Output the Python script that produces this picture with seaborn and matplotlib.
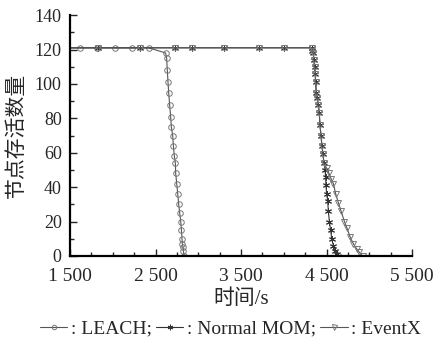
import numpy as np
import pandas as pd
import matplotlib
matplotlib.use("Agg")
import matplotlib.pyplot as plt
import seaborn as sns
from matplotlib.ticker import MultipleLocator, FixedLocator

# data (time in s, alive nodes)
leach_t = [1400, 1620, 1820, 2020, 2220, 2420, 2617, 2629, 2637, 2645, 2653, 2664,
           2676, 2684, 2700, 2708, 2719, 2731, 2735, 2747, 2759, 2770, 2782, 2794,
           2802, 2809, 2813, 2821, 2825, 2833]
leach_n = [121, 121, 121, 121, 121, 121, 118, 115, 108, 101, 95, 88,
           81, 75, 70, 64, 58, 54, 48, 42, 36, 30, 25, 20,
           15, 10, 7, 5, 3, 0]

mom_t = [1400, 1829, 2312, 2723, 2924, 3300, 3712, 4006, 4324, 4332, 4343, 4351,
         4359, 4367, 4371, 4379, 4390, 4402, 4414, 4422, 4434, 4445, 4457, 4469,
         4481, 4488, 4492, 4500, 4512, 4520, 4532, 4547, 4559, 4579, 4598, 4618, 4637]
mom_n = [121, 121, 121, 121, 121, 121, 121, 121, 121, 119, 118, 114,
         110, 106, 101, 95, 92, 88, 83, 76, 70, 64, 59, 54,
         50, 46, 41, 36, 32, 26, 20, 15, 10, 6, 3, 1, 0]

evx_t = [1400, 1829, 2312, 2723, 2924, 3300, 3712, 4006, 4324, 4332, 4343, 4351,
         4359, 4367, 4371, 4379, 4390, 4402, 4414, 4422, 4434, 4445, 4457, 4469,
         4500, 4528, 4551, 4579, 4606, 4637, 4669, 4708, 4739, 4775, 4814, 4853,
         4884, 4920]
evx_n = [121, 121, 121, 121, 121, 121, 121, 121, 121, 119, 118, 114,
         110, 106, 101, 95, 92, 88, 83, 76, 70, 64, 59, 54,
         51, 48, 45, 42, 36, 31, 26, 20, 16, 11, 7, 4,
         2, 0]

x_ticks = [1500, 2500, 3500, 4500, 5500]
x_labels = ["1 500", "2 500", "3 500", "4 500", "5 500"]

sns.set_style("ticks")
plt.rcParams["font.family"] = ["Liberation Serif", "Noto Sans CJK SC"]
plt.rcParams["xtick.direction"] = "in"
plt.rcParams["ytick.direction"] = "in"

fig = plt.figure(figsize=(4.38, 3.44), dpi=100)
ax = fig.add_axes([0.160, 0.256, 0.781, 0.700])

df_leach = pd.DataFrame({"t": leach_t, "n": leach_n})
df_mom = pd.DataFrame({"t": mom_t, "n": mom_n})
df_evx = pd.DataFrame({"t": evx_t, "n": evx_n})

line_c = "#555555"
sns.lineplot(data=df_leach, x="t", y="n", ax=ax, color=line_c, lw=0.8, marker="o",
             markersize=4, markerfacecolor="none", markeredgecolor="#777777",
             markeredgewidth=0.7, sort=False, label=": LEACH;")
sns.lineplot(data=df_mom, x="t", y="n", ax=ax, color="#333333", lw=0.8, marker=(6, 2, 0),
             markersize=5, markeredgecolor="#333333", markeredgewidth=0.7,
             sort=False, label=": Normal MOM;")
sns.lineplot(data=df_evx, x="t", y="n", ax=ax, color=line_c, lw=0.8, marker="v",
             markersize=4.5, markerfacecolor="none", markeredgecolor="#777777",
             markeredgewidth=0.7, sort=False, label=": EventX")

ax.set_xlim(1500, 5500)
ax.set_ylim(0, 140)
ax.set_xticks(x_ticks, x_labels, minor=False)
ax.xaxis.set_minor_locator(FixedLocator([1750 + 250 * i for i in range(15)]))
ax.yaxis.set_major_locator(MultipleLocator(20))
ax.yaxis.set_minor_locator(MultipleLocator(10))
ax.tick_params(which="major", length=5, width=1, labelsize=13, pad=6)
ax.tick_params(axis="x", which="major", labelsize=14, pad=9)
ax.tick_params(which="minor", length=3, width=1)
for s in ["top", "right"]:
    ax.spines[s].set_visible(False)
for s in ["left", "bottom"]:
    ax.spines[s].set_linewidth(1.6)
    ax.spines[s].set_color("black")

ax.set_xlabel("时间/s", fontsize=15, labelpad=3)
ax.set_ylabel("节点存活数量", fontsize=15, labelpad=6)

leg = ax.legend(loc="upper center", bbox_to_anchor=(0.47, -0.235), ncol=3, frameon=False,
                fontsize=14, handlelength=1.4, handletextpad=0.2, columnspacing=0.2,
                borderaxespad=0, markerscale=0.8)

fig.savefig("out.png", dpi=100)
